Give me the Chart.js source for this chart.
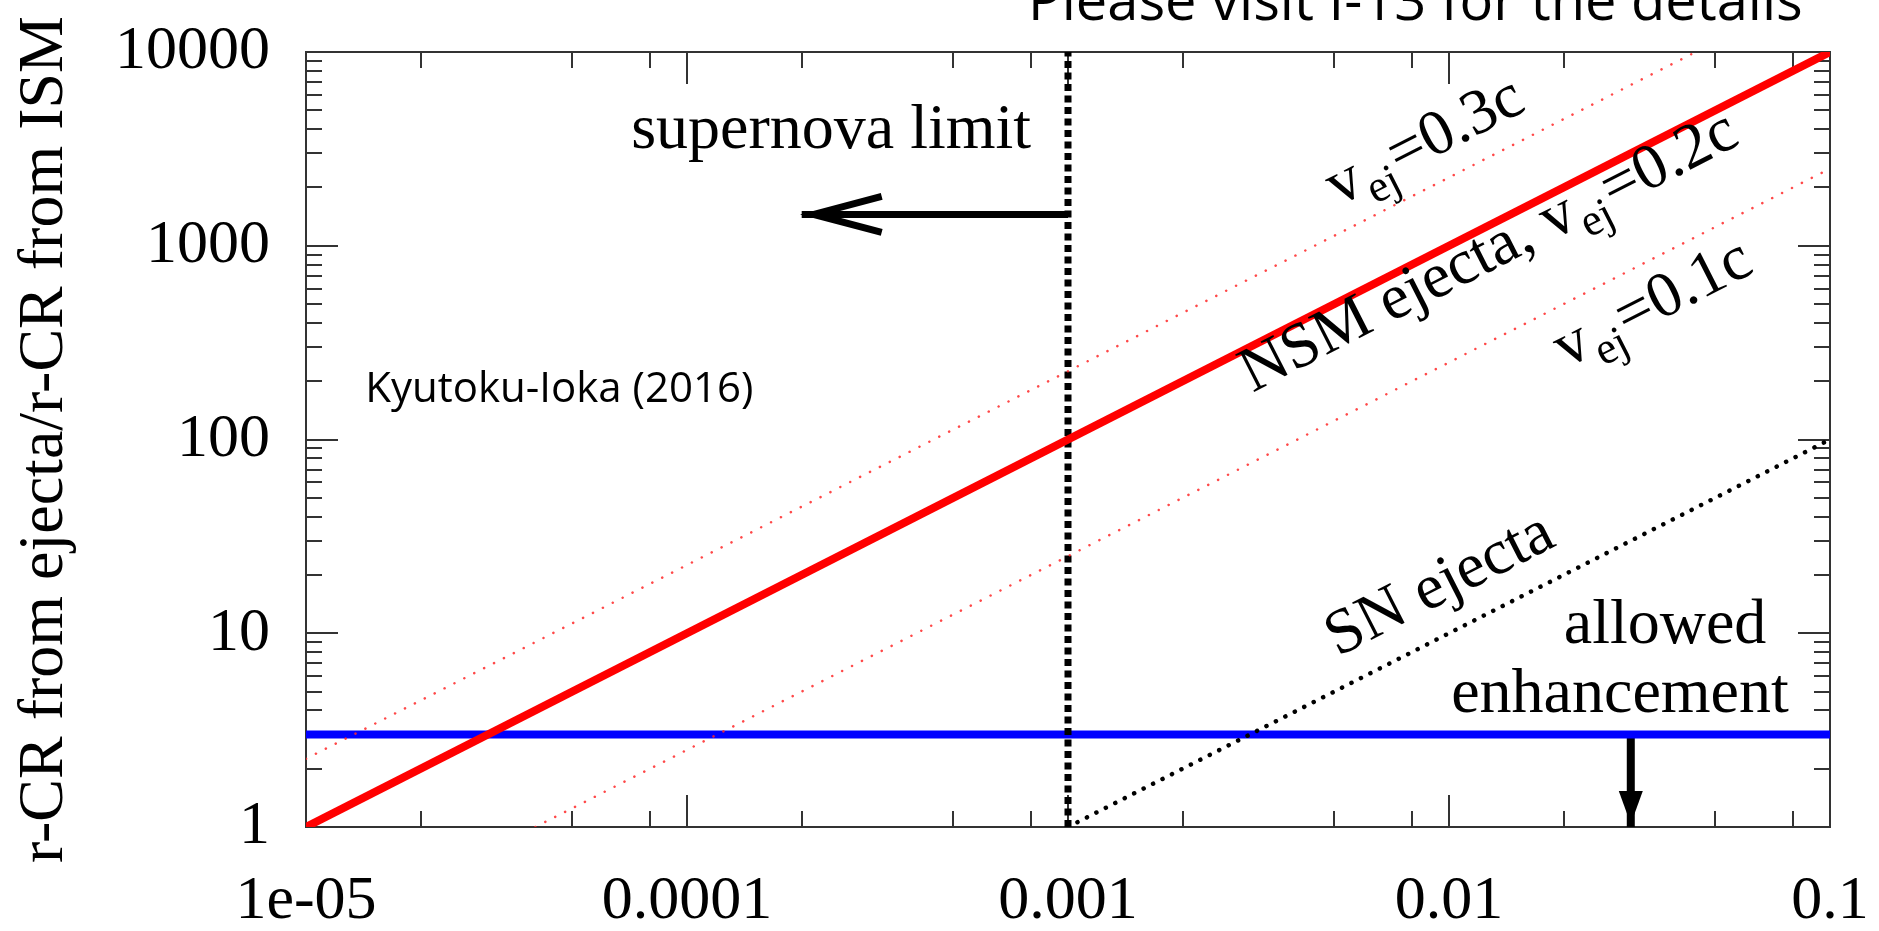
<!DOCTYPE html>
<html lang="en">
<head>
<meta charset="UTF-8">
<title>r-CR from ejecta vs ISM</title>
<script src="https://cdn.jsdelivr.net/npm/chart.js@4/dist/chart.umd.min.js"></script>
<style>
  html, body { margin: 0; padding: 0; background: #fff; }
  canvas { display: block; }
</style>
</head>
<body>
<canvas id="crChart" width="1879" height="931"></canvas>
<script>
  // axis ticks
  const xTickValues = [1e-5, 1e-4, 1e-3, 1e-2, 1e-1];
  const xTickLabels = ["1e-05", "0.0001", "0.001", "0.01", "0.1"];
  const yTickValues = [1, 10, 100, 1000, 10000];
  const yTickLabels = ["1", "10", "100", "1000", "10000"];
  const xMinorFactors = [2, 5, 8];
  const yMinorFactors = [2, 3, 4, 5, 6, 7, 8, 9];

  // curves (x, y pairs)
  const nsmX = [1e-5, 0.1],        nsmY = [1, 10000];     // NSM ejecta, v_ej = 0.2c
  const fastX = [1e-5, 0.0444],    fastY = [2.25, 10000]; // v_ej = 0.3c
  const slowX = [4e-5, 0.1],       slowY = [1, 2500];     // v_ej = 0.1c
  const snX = [0.001, 0.1],        snY = [1, 100];        // SN ejecta
  const limitX = [0.001, 0.001],   limitY = [1, 10000];   // supernova limit
  const allowedX = [1e-5, 0.1],    allowedY = [3, 3];     // allowed enhancement
  const limitArrowX = [0.001, 2e-4],  limitArrowY = [1450, 1450];
  const allowedArrowX = [0.03, 0.03], allowedArrowY = [3, 1];

  const SERIF = '"Liberation Serif", "Times New Roman", serif';
  const SANS = '"Open Sans", "Noto Sans", sans-serif';
  const FRAME = "#333";

  function pts(xs, ys) {
    return xs.map((x, i) => ({x: x, y: ys[i]}));
  }

  function line(data, color, width, dash, cap) {
    return {
      data: data, showLine: true, pointRadius: 0, fill: false,
      borderColor: color, borderWidth: width, borderDash: dash || [],
      borderCapStyle: cap || "butt"
    };
  }

  // text labels placed in data coordinates
  const flatLabels = [
    {x: 2.39e-4, y: 3190, text: "supernova limit", align: "center", font: "64px " + SERIF},
    {x: 0.0369, y: 8.9, text: "allowed", align: "center", font: "64px " + SERIF},
    {x: 0.0281, y: 3.92, text: "enhancement", align: "center", font: "64px " + SERIF},
    {x: 1.43e-5, y: 156, text: "Kyutoku-Ioka (2016)", align: "left", font: "42px " + SANS}
  ];
  const slopeLabels = [
    {x: 9.08e-3, y: 2838, parts: [["v"], ["ej", 1], ["=0.3c"]]},
    {x: 0.01336, y: 767, parts: [["NSM ejecta, v"], ["ej", 1], ["=0.2c"]]},
    {x: 0.036, y: 414, parts: [["v"], ["ej", 1], ["=0.1c"]]},
    {x: 9.93e-3, y: 14.7, parts: [["SN ejecta"]]}
  ];
  const slopeAngle = 27;

  const framePlugin = {
    id: "frame",
    beforeDatasetsDraw(chart) {
      const ctx = chart.ctx, a = chart.chartArea;
      const xs = chart.scales.x, ys = chart.scales.y;
      ctx.save();
      ctx.strokeStyle = FRAME;
      ctx.lineWidth = 2;
      ctx.strokeRect(a.left, a.top, a.right - a.left, a.bottom - a.top);
      ctx.beginPath();
      function xTick(v, len) {
        const p = Math.round(xs.getPixelForValue(v));
        ctx.moveTo(p, a.bottom); ctx.lineTo(p, a.bottom - len);
        ctx.moveTo(p, a.top); ctx.lineTo(p, a.top + len);
      }
      function yTick(v, len) {
        const p = Math.round(ys.getPixelForValue(v));
        ctx.moveTo(a.left, p); ctx.lineTo(a.left + len, p);
        ctx.moveTo(a.right, p); ctx.lineTo(a.right - len, p);
      }
      xTickValues.forEach((v, i) => {
        xTick(v, 32);
        if (i < xTickValues.length - 1) xMinorFactors.forEach(f => xTick(v * f, 16));
      });
      yTickValues.forEach((v, i) => {
        yTick(v, 32);
        if (i < yTickValues.length - 1) yMinorFactors.forEach(f => yTick(v * f, 16));
      });
      ctx.stroke();
      ctx.restore();
    }
  };

  const notePlugin = {
    id: "notes",
    afterDatasetsDraw(chart) {
      const ctx = chart.ctx;
      const xs = chart.scales.x, ys = chart.scales.y;
      ctx.save();
      ctx.fillStyle = "#000";
      ctx.strokeStyle = "#000";

      // open arrow head (supernova limit)
      const openMeta = chart.getDatasetMeta(6).data;
      let t = openMeta[1], b = openMeta[0];
      let dx = b.x - t.x, dy = b.y - t.y, d = Math.hypot(dx, dy);
      let ux = dx / d, uy = dy / d;
      const tx = t.x + ux * 12, ty = t.y + uy * 12;
      ctx.lineWidth = 7;
      ctx.lineJoin = "miter";
      ctx.beginPath();
      ctx.moveTo(tx + ux * 68 - uy * 18, ty + uy * 68 + ux * 18);
      ctx.lineTo(tx, ty);
      ctx.lineTo(tx + ux * 68 + uy * 18, ty + uy * 68 - ux * 18);
      ctx.stroke();

      // filled arrow head (allowed enhancement)
      const fillMeta = chart.getDatasetMeta(7).data;
      t = fillMeta[1]; b = fillMeta[0];
      dx = b.x - t.x; dy = b.y - t.y; d = Math.hypot(dx, dy);
      ux = dx / d; uy = dy / d;
      ctx.beginPath();
      ctx.moveTo(t.x + 3 * ux, t.y + 3 * uy);
      ctx.lineTo(t.x + ux * 36 - uy * 12, t.y + uy * 36 + ux * 12);
      ctx.lineTo(t.x + ux * 36 + uy * 12, t.y + uy * 36 - ux * 12);
      ctx.closePath();
      ctx.fill();

      // flat labels
      ctx.textBaseline = "alphabetic";
      flatLabels.forEach(l => {
        ctx.font = l.font;
        ctx.textAlign = l.align;
        ctx.fillText(l.text, xs.getPixelForValue(l.x), ys.getPixelForValue(l.y));
      });

      // rotated labels
      ctx.textAlign = "left";
      slopeLabels.forEach(l => {
        ctx.save();
        ctx.translate(xs.getPixelForValue(l.x), ys.getPixelForValue(l.y));
        ctx.rotate(-slopeAngle * Math.PI / 180);
        const widths = l.parts.map(p => {
          ctx.font = (p[1] ? "45px " : "64px ") + SERIF;
          return ctx.measureText(p[0]).width + (p[1] ? 4 : 0);
        });
        let cx = -widths.reduce((s, w) => s + w, 0) / 2;
        l.parts.forEach((p, i) => {
          ctx.font = (p[1] ? "45px " : "64px ") + SERIF;
          ctx.fillText(p[0], cx + (p[1] ? 2 : 0), p[1] ? 15 : 0);
          cx += widths[i];
        });
        ctx.restore();
      });

      // slide note at the top
      ctx.font = "56px " + SANS;
      ctx.textAlign = "left";
      ctx.fillText("Please visit I-13 for the details", 1028, 20);
      ctx.restore();
    }
  };

  new Chart(document.getElementById("crChart"), {
    type: "scatter",
    data: {
      datasets: [
        line(pts(nsmX, nsmY), "#ff0000", 8),
        line(pts(fastX, fastY), "rgba(255,40,40,0.85)", 2.5, [0.1, 11], "round"),
        line(pts(slowX, slowY), "rgba(255,40,40,0.85)", 2.5, [0.1, 11], "round"),
        line(pts(snX, snY), "#000", 4.5, [0.1, 10.5], "round"),
        line(pts(limitX, limitY), "#000", 7, [7, 4.5]),
        line(pts(allowedX, allowedY), "#0000ff", 8),
        line(pts(limitArrowX, limitArrowY), "#000", 7),
        line(pts(allowedArrowX, allowedArrowY), "#000", 8)
      ]
    },
    options: {
      responsive: false,
      animation: false,
      devicePixelRatio: 1,
      layout: {padding: {left: 0, right: 49, top: 52, bottom: 0}},
      plugins: {legend: {display: false}, tooltip: {enabled: false}},
      scales: {
        x: {
          type: "logarithmic", min: 1e-5, max: 0.1,
          // tick marks are drawn inward by the frame plugin; tickLength only spaces the labels
          grid: {display: false, drawTicks: true, tickLength: 38},
          border: {display: false},
          afterBuildTicks: s => { s.ticks = xTickValues.map(v => ({value: v})); },
          afterFit: s => { s.height = 104; },
          ticks: {
            autoSkip: false, maxRotation: 0, padding: 0, color: "#000",
            font: {family: SERIF, size: 62},
            callback: (v, i) => xTickLabels[i]
          }
        },
        y: {
          type: "logarithmic", min: 1, max: 10000,
          grid: {display: false, drawTicks: true, tickLength: 36},
          border: {display: false},
          afterBuildTicks: s => { s.ticks = yTickValues.map(v => ({value: v})); },
          afterFit: s => { s.width = 306; },
          ticks: {
            autoSkip: false, padding: 0, color: "#000",
            font: {family: SERIF, size: 62},
            callback: (v, i) => yTickLabels[i]
          },
          title: {
            display: true, text: "r-CR from ejecta/r-CR from ISM", color: "#000",
            font: {family: SERIF, size: 64}, padding: {top: 7, bottom: 0}
          }
        }
      }
    },
    plugins: [framePlugin, notePlugin]
  });
</script>
</body>
</html>
